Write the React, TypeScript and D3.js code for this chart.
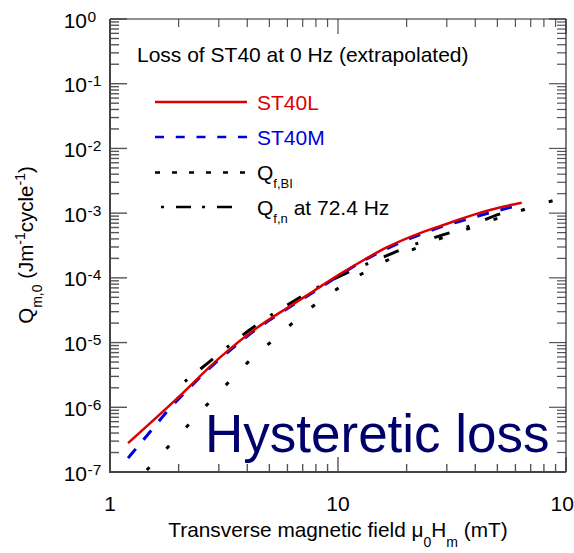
import React, { useEffect, useRef } from 'react';
import * as d3 from 'd3';

// ST40L (solid red)
const st40lField = [1.2, 1.96, 3.04, 4.4, 5.96, 7.79, 9.87, 11.67, 16.35, 22.9, 31.0, 39.2, 46.4, 63.9];
const st40lLoss = [2.8e-7, 1.35e-6, 5.9e-6, 1.68e-5, 3.4e-5, 6.2e-5, 1.07e-4, 1.52e-4, 2.95e-4, 4.9e-4, 7.1e-4, 9.4e-4, 1.12e-3, 1.45e-3];

// ST40M (dashed blue)
const st40mField = [1.2, 1.51, 1.81, 2.21, 2.64, 3.36, 4.4, 5.96, 7.79, 9.87, 13.5, 19.1, 23.4, 29.0, 36.1, 44.6, 57.9];
const st40mLoss = [1.64e-7, 4.3e-7, 9.2e-7, 1.93e-6, 3.6e-6, 7.6e-6, 1.62e-5, 3.3e-5, 6.0e-5, 1.03e-4, 2.0e-4, 3.6e-4, 4.8e-4, 6.3e-4, 7.9e-4, 9.8e-4, 1.24e-3];

// Q_f,BI (dotted black)
const bIField = [1.45, 1.78, 2.18, 2.64, 3.22, 3.94, 4.98, 6.15, 7.61, 9.3, 11.88, 14.5, 17.96, 22.4, 27.3, 35.0, 42.8, 52.9, 66.1, 82.3, 99.0];
const bILoss = [1.07e-7, 2.34e-7, 5.1e-7, 1.06e-6, 2.2e-6, 4.6e-6, 9.6e-6, 1.85e-5, 3.45e-5, 5.8e-5, 1.0e-4, 1.5e-4, 2.15e-4, 2.95e-4, 3.9e-4, 5.3e-4, 6.9e-4, 8.9e-4, 1.15e-3, 1.46e-3, 1.78e-3];

// Q_f,n at 72.4 Hz (dash-dot black)
const fnField = [2.13, 2.7, 3.36, 4.18, 6.41, 9.87, 15.3, 23.3, 35.4, 54.3, 58.6];
const fnLoss = [2.5e-6, 4.9e-6, 9.2e-6, 1.65e-5, 4.4e-5, 1.01e-4, 2.0e-4, 3.61e-4, 5.82e-4, 1.03e-3, 1.1e-3];

const xTickLabels = ['1', '10', '100'];
const yExponents = ['0', '-1', '-2', '-3', '-4', '-5', '-6', '-7'];

const FONT = "'Liberation Sans', Arial, sans-serif";

export default function App() {
  const ref = useRef<SVGSVGElement>(null);

  useEffect(() => {
    const svg = d3.select(ref.current);
    svg.selectAll('*').remove();

    const left = 110, right = 566, top = 19, bottom = 472;
    const x = d3.scaleLog().domain([1, 100]).range([left, right]);
    const y = d3.scaleLog().domain([1e-7, 1]).range([bottom, top]);

    const isMajor = (v: number) => Math.abs(Math.log10(v) - Math.round(Math.log10(v))) < 1e-9;

    svg.append('defs').append('clipPath').attr('id', 'plot-clip')
      .append('rect').attr('x', left).attr('y', top).attr('width', right - left).attr('height', bottom - top);

    // ticks
    const tickColor = '#555';
    const g = svg.append('g');
    x.ticks().forEach(v => {
      const len = isMajor(v) ? 15 : 8;
      g.append('line').attr('x1', x(v)).attr('x2', x(v)).attr('y1', bottom).attr('y2', bottom - len)
        .attr('stroke', tickColor).attr('stroke-width', 1.4);
      g.append('line').attr('x1', x(v)).attr('x2', x(v)).attr('y1', top).attr('y2', top + len)
        .attr('stroke', tickColor).attr('stroke-width', 1.2);
    });
    y.ticks().forEach(v => {
      const len = isMajor(v) ? 17 : 9;
      g.append('line').attr('x1', left).attr('x2', left + len).attr('y1', y(v)).attr('y2', y(v))
        .attr('stroke', tickColor).attr('stroke-width', 1.4);
      g.append('line').attr('x1', right).attr('x2', right - len).attr('y1', y(v)).attr('y2', y(v))
        .attr('stroke', tickColor).attr('stroke-width', 1.2);
    });

    // frame
    g.append('line').attr('x1', left).attr('x2', right).attr('y1', top).attr('y2', top).attr('stroke', '#222').attr('stroke-width', 1.2);
    g.append('line').attr('x1', right).attr('x2', right).attr('y1', top).attr('y2', bottom).attr('stroke', '#222').attr('stroke-width', 1.2);
    g.append('line').attr('x1', left).attr('x2', left).attr('y1', top).attr('y2', bottom + 1).attr('stroke', '#444').attr('stroke-width', 2);
    g.append('line').attr('x1', left - 1).attr('x2', right).attr('y1', bottom).attr('y2', bottom).attr('stroke', '#444').attr('stroke-width', 2);

    // x tick labels (the last one runs off the right edge, as in the original)
    xTickLabels.forEach((t, i) => {
      svg.append('text').attr('x', x(+t)).attr('dx', i === xTickLabels.length - 1 ? 2 : 0)
        .attr('y', 511).attr('text-anchor', 'middle')
        .attr('font-family', FONT).attr('font-size', 21).text(t);
    });

    // y tick labels
    yExponents.forEach(e => {
      const yy = y(Math.pow(10, +e));
      svg.append('text').attr('x', 87).attr('y', yy + 8.5).attr('text-anchor', 'end')
        .attr('font-family', FONT).attr('font-size', 21).text('10');
      svg.append('text').attr('x', 87.5).attr('y', yy + 2.5).attr('text-anchor', 'start')
        .attr('font-family', FONT).attr('font-size', 15.5).text(e);
    });

    // axis titles
    const xt = svg.append('text').attr('x', 338).attr('y', 537).attr('text-anchor', 'middle')
      .attr('font-family', FONT).attr('font-size', 20.8);
    xt.append('tspan').text('Transverse magnetic field \u03bc');
    xt.append('tspan').attr('font-size', 14).attr('dy', 10).text('0');
    xt.append('tspan').attr('dy', -10).text('H');
    xt.append('tspan').attr('font-size', 14).attr('dy', 10).text('m');
    xt.append('tspan').attr('dy', -10).text(' (mT)');

    const yt = svg.append('text').attr('transform', 'translate(33,245) rotate(-90)').attr('text-anchor', 'middle')
      .attr('font-family', FONT).attr('font-size', 20.5);
    yt.append('tspan').text('Q');
    yt.append('tspan').attr('font-size', 14).attr('dy', 9).text('m,0');
    yt.append('tspan').attr('dy', -9).text(' (Jm');
    yt.append('tspan').attr('font-size', 14).attr('dy', -8).text('-1');
    yt.append('tspan').attr('dy', 8).text('cycle');
    yt.append('tspan').attr('font-size', 14).attr('dy', -8).text('-1');
    yt.append('tspan').attr('dy', 8).text(')');

    // curves
    const series = [
      { xs: bIField, ys: bILoss, color: '#000', width: 3, dash: '4,25' },
      { xs: fnField, ys: fnLoss, color: '#000', width: 3, dash: '3,17,16,18' },
      { xs: st40mField, ys: st40mLoss, color: '#0000dd', width: 3, dash: '12,12' },
      { xs: st40lField, ys: st40lLoss, color: '#dd0000', width: 2.5, dash: null },
    ];
    const lineGen = d3.line<[number, number]>()
      .x(d => x(d[0])).y(d => y(d[1])).curve(d3.curveMonotoneX);
    const plot = svg.append('g').attr('clip-path', 'url(#plot-clip)');
    series.forEach(s => {
      const pts = s.xs.map((v, i) => [v, s.ys[i]] as [number, number]);
      plot.append('path').attr('d', lineGen(pts)).attr('fill', 'none')
        .attr('stroke', s.color).attr('stroke-width', s.width)
        .attr('stroke-dasharray', s.dash);
    });

    // legend
    svg.append('text').attr('x', 137).attr('y', 62).attr('font-family', FONT).attr('font-size', 21)
      .text('Loss of ST40 at 0 Hz (extrapolated)');
    const leg = svg.append('g');
    const legItems = [
      { y: 102, x1: 155, x2: 247, color: '#dd0000', width: 2.5, dash: null },
      { y: 137, x1: 155, x2: 247, color: '#0000dd', width: 2.5, dash: '9,11.75' },
      { y: 172.5, x1: 155, x2: 245, color: '#000', width: 2.5, dash: '5,12' },
      { y: 207, x1: 161, x2: 234, color: '#000', width: 2.5, dash: '3,12,15,11' },
    ];
    legItems.forEach(l => {
      leg.append('line').attr('x1', l.x1).attr('x2', l.x2).attr('y1', l.y).attr('y2', l.y)
        .attr('stroke', l.color).attr('stroke-width', l.width).attr('stroke-dasharray', l.dash);
    });
    leg.append('text').attr('x', 257).attr('y', 110).attr('font-family', FONT).attr('font-size', 21)
      .attr('fill', '#dd0000').text('ST40L');
    leg.append('text').attr('x', 257).attr('y', 145).attr('font-family', FONT).attr('font-size', 21)
      .attr('fill', '#0000dd').text('ST40M');
    const q1 = leg.append('text').attr('x', 257).attr('y', 180).attr('font-family', FONT).attr('font-size', 21);
    q1.append('tspan').text('Q');
    q1.append('tspan').attr('font-size', 13).attr('dy', 8).text('f,BI');
    const q2 = leg.append('text').attr('x', 257).attr('y', 215).attr('font-family', FONT).attr('font-size', 21);
    q2.append('tspan').text('Q');
    q2.append('tspan').attr('font-size', 13).attr('dy', 8).text('f,n');
    q2.append('tspan').attr('dy', -8).text(' at 72.4 Hz');

    svg.append('text').attr('x', 205).attr('y', 452).attr('font-family', FONT).attr('font-size', 53)
      .attr('fill', '#00006b').text('Hysteretic loss');
  }, []);

  return (
    <svg ref={ref} width={574} height={553}
      style={{ position: 'absolute', left: 0, top: 0, background: '#fff' }} />
  );
}
